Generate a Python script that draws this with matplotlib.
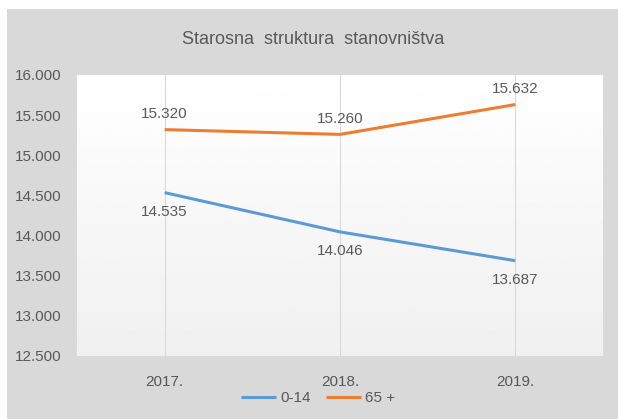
import numpy as np
import matplotlib
matplotlib.use("Agg")
import matplotlib.pyplot as plt
from matplotlib import font_manager
from matplotlib.patches import Rectangle

years = ["2017.", "2018.", "2019."]
mladi = [14535, 14046, 13687]     # 0-14
stari = [15320, 15260, 15632]     # 65 +
y_ticks = [12500, 13000, 13500, 14000, 14500, 15000, 15500, 16000]

names = sorted({f.name for f in font_manager.fontManager.ttflist})
fam = 'Liberation Sans Narrow' if 'Liberation Sans Narrow' in names else 'Liberation Sans'
plt.rcParams['font.family'] = [fam, 'DejaVu Sans']
txt = '#595959'
blue = '#5B9BD5'
orange = '#ED7D31'

def fmt(v):
    return '{:,.0f}'.format(v).replace(',', '.')

fig = plt.figure(figsize=(6.18, 4.19), dpi=100)
fig.patches.append(Rectangle((7/618, 0), 1 - 7/618, 1 - 9/419, transform=fig.transFigure,
                             facecolor='#d9d9d9', edgecolor='none', zorder=-5))

ax = fig.add_axes([77/618, 1 - 356/419, (603 - 77)/618, (356 - 75)/419])
ax.set_facecolor('none')
# gradient white -> light gray
grad = np.linspace(1.0, 0.94, 256).reshape(-1, 1)
ax.imshow(grad, cmap='gray', vmin=0, vmax=1, aspect='auto', extent=[0, 1, 0, 1],
          transform=ax.transAxes, zorder=0)

x = np.arange(len(years))
for xi in x:
    ax.axvline(xi, color='#d9d9d9', lw=0.8, zorder=1)

ax.plot(x, mladi, color=blue, lw=2.2, label='0-14', zorder=3, solid_capstyle='butt')
ax.plot(x, stari, color=orange, lw=2.2, label='65 +', zorder=3, solid_capstyle='butt')

for xi, v in zip(x, stari):
    ax.annotate(fmt(v), (xi, v), xytext=(0, 6), textcoords='offset points',
                ha='center', va='bottom', fontsize=11, color=txt)
for xi, v in zip(x, mladi):
    ax.annotate(fmt(v), (xi, v), xytext=(0, -9), textcoords='offset points',
                ha='center', va='top', fontsize=11, color=txt)

ax.set_xlim(-0.5, 2.5)
ax.set_ylim(12500, 16000)
ax.set_yticks(y_ticks)
ax.set_yticklabels([fmt(t) for t in y_ticks])
ax.set_xticks(x)
ax.set_xticklabels(years)
ax.tick_params(axis='y', length=0, pad=11, labelsize=11, labelcolor=txt)
ax.tick_params(axis='x', length=0, pad=14, labelsize=11, labelcolor=txt)
for s in ax.spines.values():
    s.set_visible(False)

fig.text(0.507, 1 - 40/419, 'Starosna  struktura  stanovništva', ha='center', va='center',
         fontsize=13, color=txt)

fig.legend(loc='center', bbox_to_anchor=(0.515, 1 - 398/419), ncol=2, frameon=False,
           fontsize=11, handlelength=2.3, handletextpad=0.25, columnspacing=1.0,
           labelcolor=txt)

fig.savefig('out.png', dpi=100)
